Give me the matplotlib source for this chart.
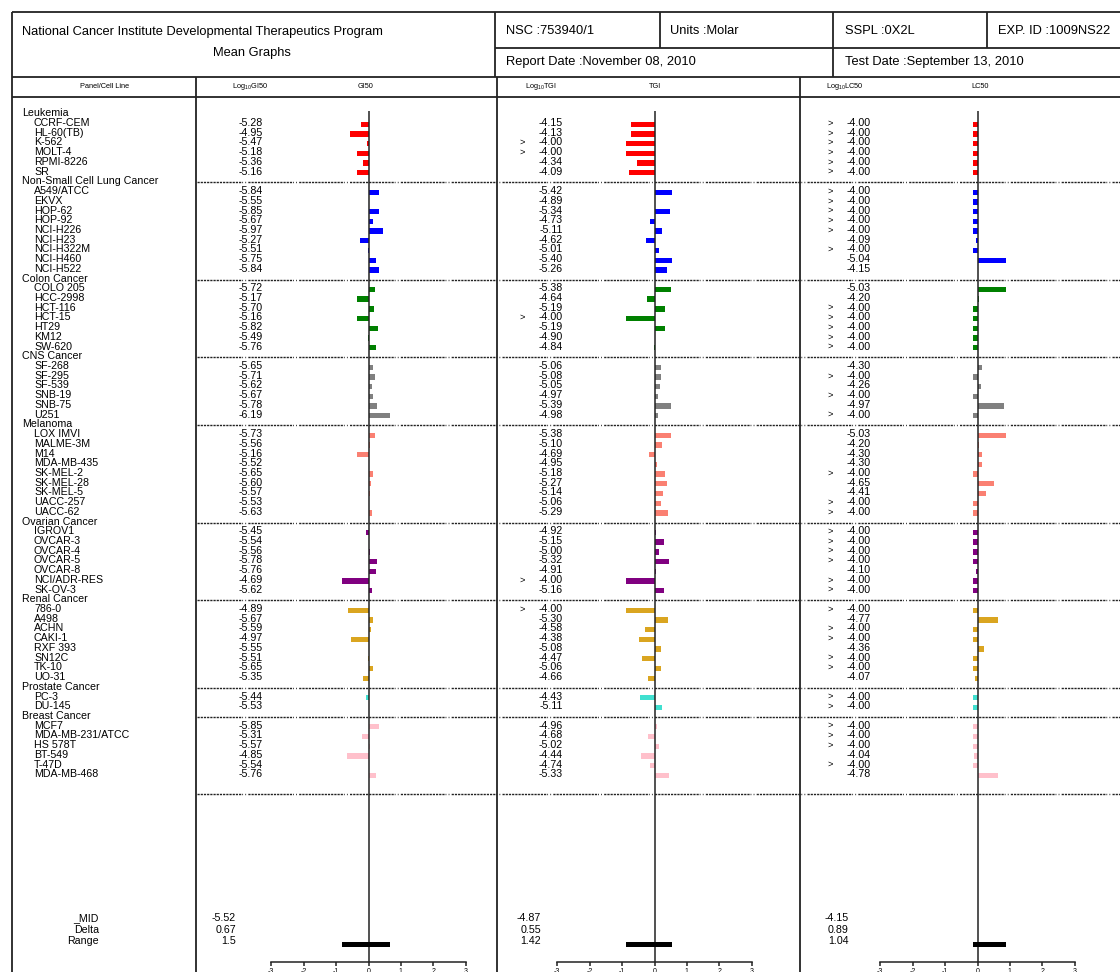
import matplotlib
matplotlib.use("Agg")
import matplotlib.pyplot as plt

# ---------------------------------------------------------------- data
panels = ["Leukemia", "Non-Small Cell Lung Cancer", "Colon Cancer", "CNS Cancer",
          "Melanoma", "Ovarian Cancer", "Renal Cancer", "Prostate Cancer", "Breast Cancer"]
panel_colors = ["#ff0000", "#0000ff", "#008000", "#808080", "#fa8072",
                "#800080", "#daa520", "#40e0d0", "#ffc0cb"]
cell_lines = [
    ["CCRF-CEM", "HL-60(TB)", "K-562", "MOLT-4", "RPMI-8226", "SR"],
    ["A549/ATCC", "EKVX", "HOP-62", "HOP-92", "NCI-H226", "NCI-H23", "NCI-H322M",
     "NCI-H460", "NCI-H522"],
    ["COLO 205", "HCC-2998", "HCT-116", "HCT-15", "HT29", "KM12", "SW-620"],
    ["SF-268", "SF-295", "SF-539", "SNB-19", "SNB-75", "U251"],
    ["LOX IMVI", "MALME-3M", "M14", "MDA-MB-435", "SK-MEL-2", "SK-MEL-28", "SK-MEL-5",
     "UACC-257", "UACC-62"],
    ["IGROV1", "OVCAR-3", "OVCAR-4", "OVCAR-5", "OVCAR-8", "NCI/ADR-RES", "SK-OV-3"],
    ["786-0", "A498", "ACHN", "CAKI-1", "RXF 393", "SN12C", "TK-10", "UO-31"],
    ["PC-3", "DU-145"],
    ["MCF7", "MDA-MB-231/ATCC", "HS 578T", "BT-549", "T-47D", "MDA-MB-468"],
]

gi50 = [-5.28, -4.95, -5.47, -5.18, -5.36, -5.16,
        -5.84, -5.55, -5.85, -5.67, -5.97, -5.27, -5.51, -5.75, -5.84,
        -5.72, -5.17, -5.70, -5.16, -5.82, -5.49, -5.76,
        -5.65, -5.71, -5.62, -5.67, -5.78, -6.19,
        -5.73, -5.56, -5.16, -5.52, -5.65, -5.60, -5.57, -5.53, -5.63,
        -5.45, -5.54, -5.56, -5.78, -5.76, -4.69, -5.62,
        -4.89, -5.67, -5.59, -4.97, -5.55, -5.51, -5.65, -5.35,
        -5.44, -5.53,
        -5.85, -5.31, -5.57, -4.85, -5.54, -5.76]

tgi = [-4.15, -4.13, -4.00, -4.00, -4.34, -4.09,
       -5.42, -4.89, -5.34, -4.73, -5.11, -4.62, -5.01, -5.40, -5.26,
       -5.38, -4.64, -5.19, -4.00, -5.19, -4.90, -4.84,
       -5.06, -5.08, -5.05, -4.97, -5.39, -4.98,
       -5.38, -5.10, -4.69, -4.95, -5.18, -5.27, -5.14, -5.06, -5.29,
       -4.92, -5.15, -5.00, -5.32, -4.91, -4.00, -5.16,
       -4.00, -5.30, -4.58, -4.38, -5.08, -4.47, -5.06, -4.66,
       -4.43, -5.11,
       -4.96, -4.68, -5.02, -4.44, -4.74, -5.33]
tgi_gt = [0, 0, 1, 1, 0, 0,
          0, 0, 0, 0, 0, 0, 0, 0, 0,
          0, 0, 0, 1, 0, 0, 0,
          0, 0, 0, 0, 0, 0,
          0, 0, 0, 0, 0, 0, 0, 0, 0,
          0, 0, 0, 0, 0, 1, 0,
          1, 0, 0, 0, 0, 0, 0, 0,
          0, 0,
          0, 0, 0, 0, 0, 0]

lc50 = [-4.00, -4.00, -4.00, -4.00, -4.00, -4.00,
        -4.00, -4.00, -4.00, -4.00, -4.00, -4.09, -4.00, -5.04, -4.15,
        -5.03, -4.20, -4.00, -4.00, -4.00, -4.00, -4.00,
        -4.30, -4.00, -4.26, -4.00, -4.97, -4.00,
        -5.03, -4.20, -4.30, -4.30, -4.00, -4.65, -4.41, -4.00, -4.00,
        -4.00, -4.00, -4.00, -4.00, -4.10, -4.00, -4.00,
        -4.00, -4.77, -4.00, -4.00, -4.36, -4.00, -4.00, -4.07,
        -4.00, -4.00,
        -4.00, -4.00, -4.00, -4.04, -4.00, -4.78]
lc50_gt = [1, 1, 1, 1, 1, 1,
           1, 1, 1, 1, 1, 0, 1, 0, 0,
           0, 0, 1, 1, 1, 1, 1,
           0, 1, 0, 1, 0, 1,
           0, 0, 0, 0, 1, 0, 0, 1, 1,
           1, 1, 1, 1, 0, 1, 1,
           1, 0, 1, 1, 0, 1, 1, 0,
           1, 1,
           1, 1, 1, 0, 1, 0]

mid_values = [-5.52, -4.87, -4.15]
tick_values = [-3, -2, -1, 0, 1, 2, 3]

header_title = ["National Cancer Institute Developmental Therapeutics Program", "Mean Graphs"]
header_cells = ["NSC :753940/1", "Units :Molar", "SSPL :0X2L", "EXP. ID :1009NS22",
                "Report Date :November 08, 2010", "Test Date :September 13, 2010"]
column_titles = ["Panel/Cell Line", r"Log$_{10}$GI50", "GI50", r"Log$_{10}$TGI", "TGI",
                 r"Log$_{10}$LC50", "LC50"]
stat_labels = ["_MID", "Delta", "Range"]

# ---------------------------------------------------------------- layout
W, H = 1120, 972
ROW0, ROW_H = 113.3, 9.72       # first row centre and row pitch (px)
UNIT = 32.4                      # px per log10 unit
LINE = "#222222"
BODY_FONT = ["Liberation Sans", "DejaVu Sans"]

plt.rcParams["font.family"] = BODY_FONT
plt.rcParams["mathtext.fontset"] = "custom"
plt.rcParams["mathtext.rm"] = "Liberation Sans"
plt.rcParams["mathtext.default"] = "regular"


def row_y(r):
    return ROW0 + r * ROW_H


def px_to_row(y):
    return (y - ROW0) / ROW_H


fig = plt.figure(figsize=(W / 100, H / 100), dpi=100)
fig.patch.set_facecolor("white")

ov = fig.add_axes([0, 0, 1, 1], zorder=0)
ov.set_xlim(0, W)
ov.set_ylim(H, 0)
ov.axis("off")

# rows: panel header rows and cell-line rows
header_rows, line_rows, line_names, line_colors = [], [], [], []
r = 0
for name, lines, col in zip(panels, cell_lines, panel_colors):
    header_rows.append(r)
    r += 1
    for ln in lines:
        line_rows.append(r)
        line_names.append(ln)
        line_colors.append(col)
        r += 1
end_row = r + 1

# ---------------------------------------------------------------- frame
lw_frame = 1.3
ov.hlines([12, 77, 97], 12, W, color=LINE, lw=lw_frame)
ov.hlines(48, 495, W, color=LINE, lw=lw_frame)
ov.vlines(12, 12, H, color=LINE, lw=lw_frame)
ov.vlines(495, 12, 77, color=LINE, lw=lw_frame)
ov.vlines([660, 987], 12, 48, color=LINE, lw=lw_frame)
ov.vlines(833, 12, 77, color=LINE, lw=lw_frame)
ov.vlines([196, 497, 800], 77, H, color=LINE, lw=lw_frame)

HEAD = 9.3
ov.text(22, 32, header_title[0], fontsize=HEAD, va="center", ha="left")
ov.text(252, 53, header_title[1], fontsize=HEAD, va="center", ha="center")
for txt, (x, y) in zip(header_cells, [(506, 31), (670, 31), (845, 31), (998, 31),
                                      (506, 62), (845, 62)]):
    ov.text(x, y, txt, fontsize=HEAD, va="center", ha="left")

for txt, x in zip(column_titles, [105, 250, 366, 541, 655, 845, 980]):
    ov.text(x, 87, txt, fontsize=5.3, va="center", ha="center")

# dashed separators between panels
sep_y = [row_y(h) + 1 for h in header_rows[1:]] + [row_y(end_row) + 0.5]
ov.hlines(sep_y, 197, W, color=LINE, lw=1.0,
          linestyles=[(0, (1.6, 0.7) * 14 + (0.6, 1.6, 0.6, 1.6))])

# ---------------------------------------------------------------- row labels
TXT = 7.7
for h, name in zip(header_rows, panels):
    ov.text(22, row_y(h), name, fontsize=TXT, va="center", ha="left")
for rr, name in zip(line_rows, line_names):
    ov.text(34, row_y(rr), name, fontsize=TXT, va="center", ha="left")

value_cols = [(gi50, [0] * len(gi50), 263, None),
              (tgi, tgi_gt, 563, 522),
              (lc50, lc50_gt, 871, 830)]
for vals, flags, xr, xg in value_cols:
    for rr, v, f in zip(line_rows, vals, flags):
        ov.text(xr, row_y(rr), f"{v:.2f}", fontsize=TXT, va="center", ha="right")
        if f and xg is not None:
            ov.text(xg, row_y(rr), ">", fontsize=TXT - 1, va="center", ha="center")

# summary statistics
stat_y = [918, 930, 941]
for lab, y in zip(stat_labels, stat_y):
    ov.text(99, y, lab, fontsize=TXT, va="center", ha="right")

# ---------------------------------------------------------------- bar panels
panel_geom = [(196, 497, 368.5, 236), (497, 800, 654.5, 541), (800, W, 977.5, 849)]
for (left, right, zero, xs), vals, mid in zip(panel_geom, [gi50, tgi, lc50], mid_values):
    ax = fig.add_axes([left / W, 0, (right - left) / W, 1], zorder=2)
    ax.set_xlim((left - zero) / UNIT, (right - zero) / UNIT)
    ax.set_ylim(px_to_row(H), px_to_row(0))
    ax.axis("off")
    ax.patch.set_alpha(0)

    dev = [mid - v for v in vals]
    ax.barh([rr + 0.12 for rr in line_rows], dev, height=0.55, color=line_colors,
            edgecolor="none", zorder=3)
    ax.vlines(0, px_to_row(111.5), px_to_row(962), color=LINE, lw=1.1, zorder=4)

    lo, hi = min(vals), max(vals)
    ax.barh(px_to_row(944.5), hi - lo, left=mid - hi, height=0.5, color="black", zorder=5)

    delta = mid - lo
    rng = round(hi - lo, 2)
    for txt, y in zip([f"{mid:.2f}", f"{delta:.2f}", f"{rng:g}"], stat_y):
        ov.text(xs, y, txt, fontsize=TXT, va="center", ha="right")

    # scale along the bottom
    axb = fig.add_axes([left / W, (H - 962) / H, (right - left) / W, 0.0005], zorder=2)
    axb.set_xlim(ax.get_xlim())
    axb.patch.set_alpha(0)
    for s in ["top", "left", "right"]:
        axb.spines[s].set_visible(False)
    axb.spines["bottom"].set_bounds(tick_values[0], tick_values[-1])
    axb.spines["bottom"].set_color(LINE)
    axb.spines["bottom"].set_linewidth(1.1)
    axb.set_yticks([])
    axb.set_xticks(tick_values)
    axb.set_xticklabels([str(t) for t in tick_values], fontsize=5)
    axb.tick_params(axis="x", length=3, width=1.1, color=LINE, pad=1.5)

fig.savefig("out.png", dpi=100, facecolor="white")
